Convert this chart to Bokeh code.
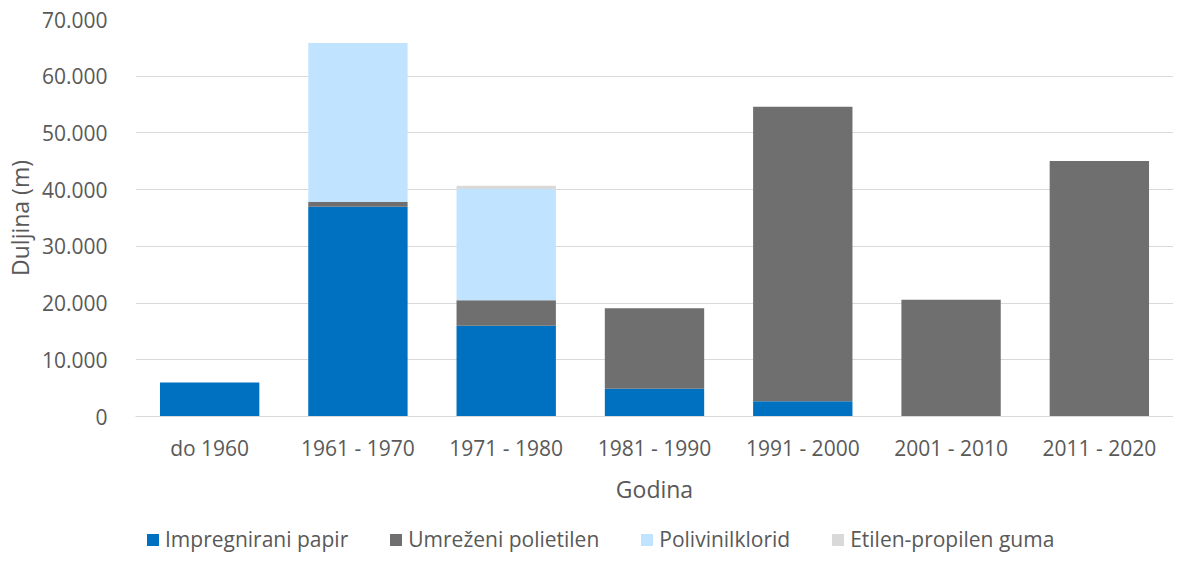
from bokeh.plotting import figure
from bokeh.layouts import column
from bokeh.models import ColumnDataSource, FactorRange, Range1d, FixedTicker, Legend, LegendItem
from bokeh.embed import file_html
from bokeh.resources import INLINE

categories = ["do 1960", "1961 - 1970", "1971 - 1980", "1981 - 1990",
              "1991 - 2000", "2001 - 2010", "2011 - 2020"]
impregnirani_papir = [6000, 37000, 16000, 4900, 2700, 0, 0]
umrezeni_polietilen = [0, 800, 4500, 14200, 51900, 20600, 45050]
polivinilklorid = [0, 28050, 19600, 0, 0, 0, 0]
etilen_propilen_guma = [0, 0, 600, 0, 0, 0, 0]

series_names = ["Impregnirani papir", "Umreženi polietilen", "Polivinilklorid", "Etilen-propilen guma"]
series_keys = ["imp", "umr", "pvc", "epr"]
colors = ["#0070C0", "#6F6F6F", "#C0E4FF", "#D9D9D9"]

y_ticks = [0, 10000, 20000, 30000, 40000, 50000, 60000, 70000]
y_tick_labels = ["0", "10.000", "20.000", "30.000", "40.000", "50.000", "60.000", "70.000"]

source = ColumnDataSource(data=dict(
    cat=categories,
    imp=impregnirani_papir,
    umr=umrezeni_polietilen,
    pvc=polivinilklorid,
    epr=etilen_propilen_guma,
))

FONT = "Open Sans"
TXT = "#595959"

p = figure(
    width=1173, height=512,
    x_range=FactorRange(*categories, range_padding=0),
    y_range=Range1d(0, 70000),
    output_backend="svg", toolbar_location=None,
    min_border_left=135, min_border_right=0, min_border_top=19,
    min_border_bottom=96,
    outline_line_color=None,
)

renderers = p.vbar_stack(series_keys, x="cat", width=0.67, source=source,
                         color=colors, line_color=None)

p.xgrid.grid_line_color = None
p.ygrid.grid_line_color = "#D9D9D9"
p.ygrid.grid_line_width = 1

p.yaxis.ticker = FixedTicker(ticks=y_ticks)
p.yaxis.major_label_overrides = {t: l for t, l in zip(y_ticks, y_tick_labels)}
p.yaxis.axis_line_color = None
p.yaxis.major_tick_line_color = None
p.yaxis.minor_tick_line_color = None
p.yaxis.major_label_standoff = 22
p.yaxis.axis_label = "Duljina (m)"
p.yaxis.axis_label_standoff = 3

p.xaxis.axis_line_color = "#D9D9D9"
p.xaxis.axis_line_width = 1
p.xaxis.major_tick_line_color = None
p.xaxis.minor_tick_line_color = None
p.xaxis.major_label_standoff = 11
p.xaxis.axis_label = "Godina"
p.xaxis.axis_label_standoff = 8

for ax in (p.xaxis[0], p.yaxis[0]):
    ax.major_label_text_font = FONT
    ax.major_label_text_font_size = "21px"
    ax.major_label_text_color = TXT
    ax.axis_label_text_font = FONT
    ax.axis_label_text_font_size = "23px"
    ax.axis_label_text_font_style = "normal"
    ax.axis_label_text_color = TXT

# legend strip below the chart
lf = figure(
    width=1173, height=41,
    x_range=FactorRange(*categories, range_padding=0),
    y_range=Range1d(1e6, 2e6),
    output_backend="svg", toolbar_location=None,
    x_axis_type=None, y_axis_type=None,
    min_border_left=0, min_border_right=0, min_border_top=0, min_border_bottom=0,
    outline_line_color=None,
)
lf.xgrid.visible = False
lf.ygrid.visible = False
leg_renderers = lf.vbar_stack(series_keys, x="cat", width=0.67, source=source,
                              color=colors, line_color=None)

legend = Legend(
    items=[LegendItem(label=n, renderers=[r]) for n, r in zip(series_names, leg_renderers)],
    orientation="horizontal",
    location=(10, 0),
    label_text_font=FONT, label_text_font_size="21px", label_text_color=TXT,
    glyph_width=15, glyph_height=15, label_standoff=5, spacing=40,
    border_line_color=None, background_fill_alpha=0,
    padding=2, margin=0,
)
lf.add_layout(legend, "center")

layout = column(p, lf, spacing=0)

open("out.html", "w").write(file_html(layout, INLINE))
